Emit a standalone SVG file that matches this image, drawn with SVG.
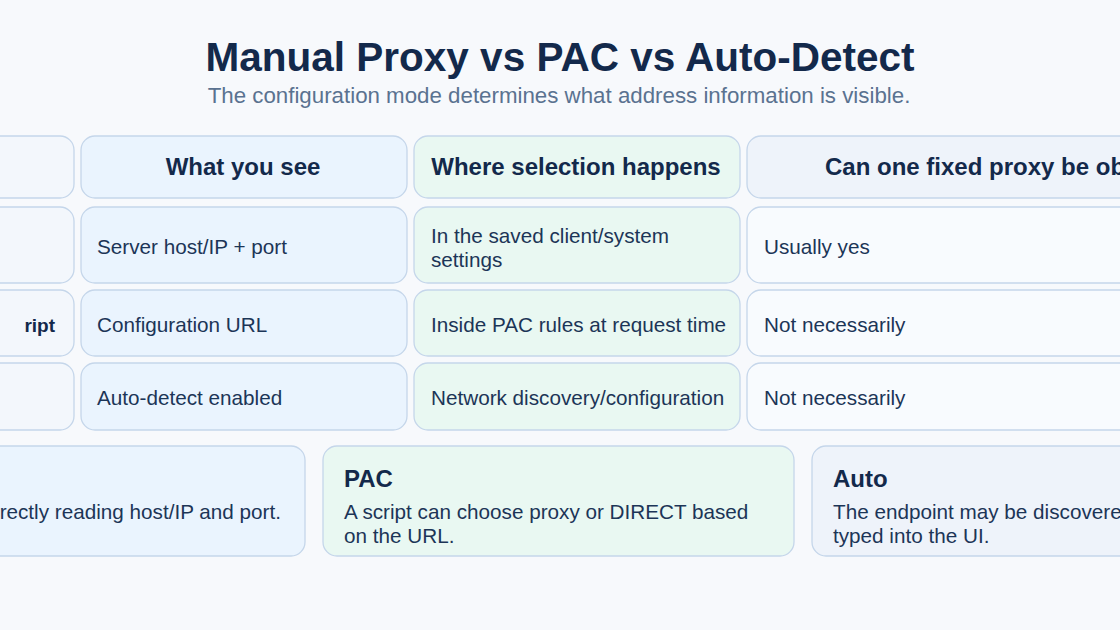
<svg xmlns="http://www.w3.org/2000/svg" width="1120" height="630" viewBox="0 0 1120 630">
<style>
.c{stroke:#c5d6ea;stroke-width:1.3}
.b{fill:#eaf4fe}.g{fill:#e9f8f2}.w{fill:#f8fbfe}.h3{fill:#eef3fa}.z{fill:#f3f7fc}
.t{font-family:"Liberation Sans",Arial,sans-serif;fill:#1c3557;font-size:20.7px}
.hd{font-family:"Liberation Sans",Arial,sans-serif;fill:#13294b;font-size:24px;font-weight:bold}
</style>
<rect width="1120" height="630" fill="#f7f9fc"/>
<text x="560" y="71" text-anchor="middle" font-family="Liberation Sans,Arial,sans-serif" font-size="40.5" font-weight="bold" fill="#13294b">Manual Proxy vs PAC vs Auto-Detect</text>
<text x="559" y="103" text-anchor="middle" font-family="Liberation Sans,Arial,sans-serif" font-size="22.3" fill="#5a7290">The configuration mode determines what address information is visible.</text>
<g id="header">
<rect class="c z" x="-40" y="136" width="114" height="62" rx="14"/>
<rect class="c b" x="81" y="136" width="326" height="62" rx="14"/>
<text class="hd" x="243" y="175" text-anchor="middle">What you see</text>
<rect class="c g" x="414" y="136" width="326" height="62" rx="14"/>
<text class="hd" x="576" y="175" text-anchor="middle">Where selection happens</text>
<rect class="c h3" x="747" y="136" width="420" height="62" rx="14"/>
<text class="hd" x="825" y="175">Can one fixed proxy be ob</text>
</g>
<g id="row1">
<rect class="c z" x="-40" y="207" width="114" height="76" rx="14"/>
<rect class="c b" x="81" y="207" width="326" height="76" rx="14"/>
<text class="t" x="97" y="254">Server host/IP + port</text>
<rect class="c g" x="414" y="207" width="326" height="76" rx="14"/>
<text class="t" x="431" y="243">In the saved client/system</text>
<text class="t" x="431" y="267">settings</text>
<rect class="c w" x="747" y="207" width="420" height="76" rx="14"/>
<text class="t" x="764" y="254">Usually yes</text>
</g>
<g id="row2">
<rect class="c z" x="-40" y="290" width="114" height="66" rx="14"/>
<text class="hd" x="55" y="332" text-anchor="end" style="font-size:19px">ript</text>
<rect class="c b" x="81" y="290" width="326" height="66" rx="14"/>
<text class="t" x="97" y="332">Configuration URL</text>
<rect class="c g" x="414" y="290" width="326" height="66" rx="14"/>
<text class="t" x="431" y="332">Inside PAC rules at request time</text>
<rect class="c w" x="747" y="290" width="420" height="66" rx="14"/>
<text class="t" x="764" y="332">Not necessarily</text>
</g>
<g id="row3">
<rect class="c z" x="-40" y="363" width="114" height="67" rx="14"/>
<rect class="c b" x="81" y="363" width="326" height="67" rx="14"/>
<text class="t" x="97" y="405">Auto-detect enabled</text>
<rect class="c g" x="414" y="363" width="326" height="67" rx="14"/>
<text class="t" x="431" y="405">Network discovery/configuration</text>
<rect class="c w" x="747" y="363" width="420" height="67" rx="14"/>
<text class="t" x="764" y="405">Not necessarily</text>
</g>
<g id="card-manual">
<rect class="c b" x="-170" y="446" width="475" height="110" rx="14"/>
<text class="t" x="281" y="519" text-anchor="end">rectly reading host/IP and port.</text>
</g>
<g id="card-pac">
<rect class="c g" x="323" y="446" width="471" height="110" rx="14"/>
<text class="hd" x="344" y="487">PAC</text>
<text class="t" x="344" y="519">A script can choose proxy or DIRECT based</text>
<text class="t" x="344" y="543">on the URL.</text>
</g>
<g id="card-auto">
<rect class="c h3" x="812" y="446" width="471" height="110" rx="14"/>
<text class="hd" x="833" y="487">Auto</text>
<text class="t" x="833" y="519">The endpoint may be discovere</text>
<text class="t" x="833" y="543">typed into the UI.</text>
</g>
<g id="connectors"/>
</svg>
